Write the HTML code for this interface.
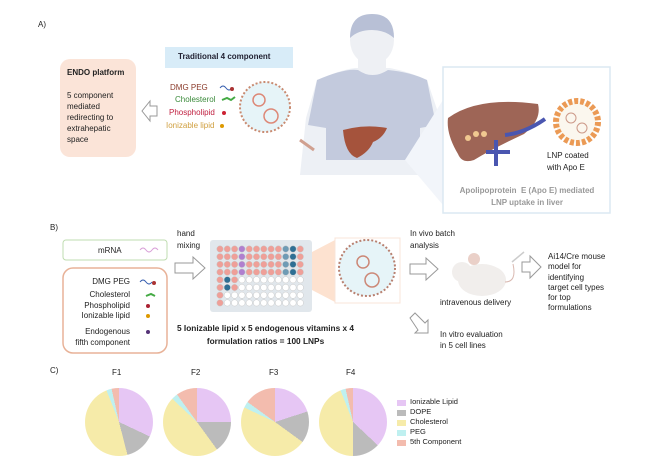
<!DOCTYPE html>
<html><head><meta charset="utf-8"><style>
body{margin:0;width:648px;height:464px;background:#fff;position:relative;overflow:hidden;font-family:"Liberation Sans",sans-serif;color:#222}
.t{position:absolute;font-size:8px;line-height:10px;white-space:nowrap}
.pie{position:absolute;width:68px;height:68px;border-radius:50%}
.sq{position:absolute;left:397px;width:9px;height:6px}
</style></head><body>
<svg width="648" height="464" style="position:absolute;left:0;top:0">
<!-- A -->
<rect x="165" y="47" width="128" height="21" fill="#d8ecf8"/>
<rect x="60" y="59" width="76" height="98" rx="10" fill="#fbe4d8"/>
<path d="M157 106 h-7 v-5 l-8 10 l8 10 v-5 h7z" fill="#fff" stroke="#999"/>
<circle cx="265" cy="107" r="25" fill="#e6f4f8" stroke="#c98a70" stroke-width="2" stroke-dasharray="2 2"/>
<circle cx="259" cy="100" r="6" fill="none" stroke="#d87" stroke-width="1.5"/>
<circle cx="271" cy="116" r="7" fill="none" stroke="#d87" stroke-width="1.5"/>
<path d="M220 88 q3 -4 6 0 q3 4 6 0" stroke="#3860b0" fill="none"/><circle cx="232" cy="89" r="2" fill="#a33"/>
<path d="M222 100 l5 -2 l4 2 l4 -3" stroke="#4a4" stroke-width="2" fill="none"/>
<circle cx="224" cy="113" r="2" fill="#c23"/><circle cx="222" cy="126" r="2" fill="#d90"/>
<!-- person -->
<path d="M300 175 L306 118 L317 80 Q340 70 355 68 L390 68 Q410 72 427 80 L440 118 L446 175Z" fill="#edf0f5"/>
<rect x="358" y="56" width="28" height="20" fill="#eef0f4"/>
<path d="M317 80 Q345 68 358 70 Q372 80 388 70 Q410 72 427 80 L436 125 L420 128 L420 160 L326 160 L326 128 L308 125Z" fill="#c3cadd"/>
<ellipse cx="372" cy="40" rx="22" ry="25" fill="#eef0f4"/>
<path d="M350 38 Q350 14 372 14 Q394 14 394 38 Q385 30 372 30 Q358 30 350 38Z" fill="#b8c0d6"/>
<path d="M343 130 q22 -6 44 -2 q-4 10 -14 14 q-4 10 -16 16 q-12 -4 -14 -28z" fill="#a5533c"/>
<path d="M300 140 l14 10" stroke="#d0a090" stroke-width="3"/>
<!-- right box -->
<path d="M405 160 L443 205 L443 100Z" fill="#f2f5fa"/>
<rect x="443" y="67" width="167" height="146" fill="#fff" stroke="#dbe8f2" stroke-width="1.5"/>
<path d="M448 118 q30 -22 90 -14 q4 16 -14 30 q-30 14 -50 26 q-12 4 -16 -6 q-12 -20 -10 -36z" fill="#9e6556"/>
<circle cx="468" cy="138" r="3" fill="#f0c890"/><circle cx="476" cy="134" r="3" fill="#f0c890"/><circle cx="484" cy="134" r="3" fill="#f0c890"/>
<path d="M496 140 v26 M486 152 h24 M505 135 q20 -2 40 -16" stroke="#4a56b0" stroke-width="4" fill="none"/>
<circle cx="577" cy="122" r="21" fill="#fbf7ee" stroke="#eb9a55" stroke-width="6" stroke-dasharray="4 2"/>
<circle cx="571" cy="118" r="5" fill="none" stroke="#c98"/><circle cx="582" cy="128" r="5" fill="none" stroke="#c98"/>
<!-- B -->
<rect x="63" y="240" width="104" height="20" rx="3" fill="#fff" stroke="#bfdcb0"/>
<path d="M140 250 q3 -4 6 0 q3 4 6 0 q3 -4 6 0" stroke="#d9a0d8" fill="none"/>
<rect x="63" y="268" width="104" height="85" rx="10" fill="#fff" stroke="#e8b298" stroke-width="1.5"/>
<path d="M140 282 q3 -4 6 0 q3 4 6 0" stroke="#3860b0" fill="none"/><circle cx="154" cy="283" r="2" fill="#a33"/>
<path d="M146 296 l5 -2 l4 2" stroke="#4a4" stroke-width="2" fill="none"/>
<circle cx="148" cy="306" r="2" fill="#a23"/><circle cx="148" cy="316" r="2" fill="#d90"/><circle cx="148" cy="332" r="2" fill="#537"/>
<path d="M175 263 h18 v-6 l12 11 l-12 11 v-6 h-18z" fill="#fff" stroke="#999"/>
<rect x="210" y="240" width="102" height="72" rx="3" fill="#e1e7ec"/>
<g id="wells"></g>
<path d="M312 252 L335 240 L335 302 L312 290Z" fill="#fde2d0"/>
<rect x="335" y="238" width="65" height="65" fill="#fff" stroke="#f8e4d8"/>
<circle cx="367" cy="268" r="28" fill="#e6f4f8" stroke="#b88070" stroke-width="2" stroke-dasharray="2 2"/>
<circle cx="363" cy="262" r="6" fill="none" stroke="#c87" stroke-width="1.5"/>
<circle cx="372" cy="280" r="7" fill="none" stroke="#c87" stroke-width="1.5"/>
<path d="M410 264 h16 v-6 l12 11 l-12 11 v-6 h-16z" fill="#fff" stroke="#999"/>
<ellipse cx="482" cy="280" rx="24" ry="16" fill="#f1eeec"/>
<circle cx="462" cy="272" r="10" fill="#f1eeec"/>
<circle cx="474" cy="259" r="6" fill="#ead0c8"/>
<path d="M505 282 q12 0 8 -18" stroke="#d9b8b0" fill="none"/>
<path d="M512 262 l12 -10" stroke="#ccc" stroke-width="1.5"/>
<path d="M522 262 h8 v-6 l11 11 l-11 11 v-6 h-8z" fill="#fff" stroke="#999"/>
<path d="M410 318 l5 -5 l10 10 l3 -3 v13 h-13 l3 -3z" fill="#fff" stroke="#999"/>
</svg>
<div class="t" style="left:38px;top:20px">A)</div>
<div class="t" style="left:178px;top:52px;font-weight:bold;color:#223">Traditional 4 component</div>
<div class="t" style="left:67px;top:68px;font-weight:bold">ENDO platform</div>
<div class="t" style="left:67px;top:90px;line-height:11px">5 component<br>mediated<br>redirecting to<br>extrahepatic<br>space</div>
<div class="t" style="left:170px;top:83px;color:#8a3a2a">DMG PEG</div>
<div class="t" style="left:175px;top:95px;color:#3a8a3a">Cholesterol</div>
<div class="t" style="left:169px;top:108px;color:#c02040">Phospholipid</div>
<div class="t" style="left:166px;top:121px;color:#d0a040">Ionizable lipid</div>
<div class="t" style="left:547px;top:150px;line-height:12px">LNP coated<br>with Apo E</div>
<div class="t" style="left:446px;top:185px;width:162px;font-weight:bold;color:#999;text-align:center;line-height:12px">Apolipoprotein&nbsp; E (Apo E) mediated<br>LNP uptake in liver</div>
<div class="t" style="left:50px;top:223px">B)</div>
<div class="t" style="left:177px;top:228px;line-height:12px">hand<br>mixing</div>
<div class="t" style="left:98px;top:246px">mRNA</div>
<div class="t" style="left:70px;top:277px;text-align:right;width:60px;line-height:10.5px">DMG PEG<br><span style="line-height:13px">Cholesterol</span><br>Phospholipid<br>Ionizable lipid</div>
<div class="t" style="left:66px;top:326px;text-align:right;width:64px;line-height:11px">Endogenous<br>fifth component</div>
<div class="t" style="left:177px;top:322px;font-weight:bold;font-size:8.3px;line-height:13px;text-align:center">5 Ionizable lipid x 5 endogenous vitamins x 4<br>formulation ratios = 100 LNPs</div>
<div class="t" style="left:410px;top:228px;line-height:12px">In vivo batch<br>analysis</div>
<div class="t" style="left:440px;top:298px">intravenous delivery</div>
<div class="t" style="left:548px;top:252px;line-height:10.3px">Ai14/Cre mouse<br>model for<br>identifying<br>target cell types<br>for top<br>formulations</div>
<div class="t" style="left:440px;top:329px;line-height:11px">In vitro evaluation<br>in 5 cell lines</div>
<div class="t" style="left:50px;top:366px">C)</div>
<div class="t" style="left:112px;top:368px">F1</div>
<div class="t" style="left:191px;top:368px">F2</div>
<div class="t" style="left:269px;top:368px">F3</div>
<div class="t" style="left:346px;top:368px">F4</div>
<div class="pie" style="left:85px;top:388px;background:conic-gradient(#e6c6f4 0 32%,#bbbbbb 0 46%,#f6eba9 0 94%,#bff0f0 0 96.5%,#f3bcae 0)"></div>
<div class="pie" style="left:163px;top:388px;background:conic-gradient(#e6c6f4 0 25%,#bbbbbb 0 40%,#f6eba9 0 87%,#bff0f0 0 90%,#f3bcae 0)"></div>
<div class="pie" style="left:241px;top:388px;background:conic-gradient(#e6c6f4 0 20%,#bbbbbb 0 35%,#f6eba9 0 82%,#bff0f0 0 85%,#f3bcae 0)"></div>
<div class="pie" style="left:319px;top:388px;background:conic-gradient(#e6c6f4 0 37%,#bbbbbb 0 50%,#f6eba9 0 94%,#bff0f0 0 96.5%,#f3bcae 0)"></div>
<div class="sq" style="top:400px;background:#e6c6f4"></div>
<div class="sq" style="top:410px;background:#bbbbbb"></div>
<div class="sq" style="top:420px;background:#f6eba9"></div>
<div class="sq" style="top:430px;background:#bff0f0"></div>
<div class="sq" style="top:440px;background:#f3bcae"></div>
<div class="t" style="left:410px;top:397px;line-height:10px;font-size:7.5px">Ionizable Lipid<br>DOPE<br>Cholesterol<br>PEG<br>5th Component</div>
<script>
var g=document.getElementById('wells'),s='';
for(var r=0;r<8;r++)for(var c=0;c<12;c++){var col='#fff';
if(r<4){col='#ef9f98';if(c==3)col='#b07fcf';if(c==9)col='#6e9bb5';if(c==10)col='#2e6f94';}
else{if(c==0)col='#ef9f98';if(r<6&&c==1)col='#2e6f94';if(r<6&&c==2)col='#ef9f98';}
s+='<circle cx="'+(220+c*7.3)+'" cy="'+(249+r*7.7)+'" r="3.2" fill="'+col+'" stroke="#c8c8c8" stroke-width="0.5"/>';}
g.innerHTML=s;
</script>
</body></html>
